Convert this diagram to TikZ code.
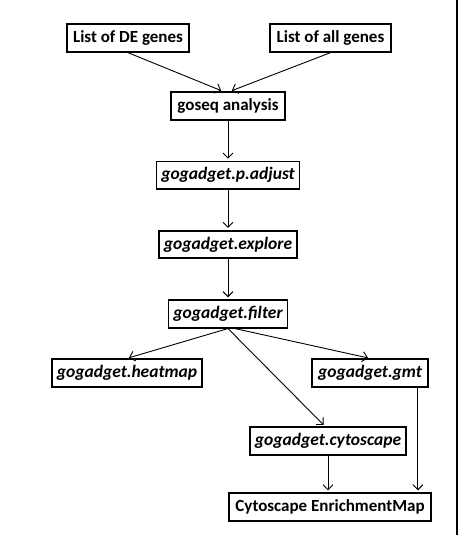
\documentclass[tikz,border=0pt]{standalone}
\usepackage{fontspec}
\setmainfont{Carlito}
\usetikzlibrary{positioning, arrows.meta}

\begin{document}
\begin{tikzpicture}[x=1pt,y=-1pt,->,>={Straight Barb[length=5pt,width=10pt]},
                shorten >=2pt,line width=0.9pt,node distance=40pt,
                box node/.style={rectangle,draw,line width=1.8pt,minimum height=27.5pt,
                  inner xsep=2pt,font=\fontsize{17}{19}\selectfont\bfseries},
                fn node/.style={box node,font=\fontsize{17.5}{19}\selectfont\bfseries\itshape}]

  \useasboundingbox (0,0) rectangle (460,535);
  \draw[-,line width=2pt,shorten >=0pt] (457,0) -- (457,535);

  \node[box node,minimum width=122pt] (de) at (128,38) {List of DE genes};
  \node[box node,minimum width=121pt] (all) at (330.5,38) {List of all genes};
  \node[box node,minimum width=114pt] (goseq) at (228,106) {goseq analysis};
  \node[fn node,minimum width=143pt] (padjust) [below=of goseq] {gogadget.p.adjust};
  \node[fn node,minimum width=138pt] (explore) [below=of padjust] {gogadget.explore};
  \node[fn node,minimum width=119pt] (filter) [below=of explore] {gogadget.filter};
  \node[fn node,minimum width=150pt] (heatmap) at (127,373) {gogadget.heatmap};
  \node[fn node,minimum width=116pt] (gmt) at (370,373) {gogadget.gmt};
  \node[fn node,minimum width=156pt] (cyto) at (328,441) {gogadget.cytoscape};
  \node[box node,minimum width=202pt] (em) at (330,507) {Cytoscape EnrichmentMap};
  \coordinate (gmtout) at ([xshift=-11pt]gmt.south east);

  \path
    (de.south) edge ([xshift=-5pt]goseq.north)
    (all.south) edge ([xshift=2pt]goseq.north)
    (goseq) edge (padjust)
    (padjust) edge (explore)
    (explore) edge (filter)
    (filter.south) edge (heatmap.north)
        edge ([xshift=-3pt]cyto.north)
    ([xshift=7pt]filter.south) edge (gmt.north)
    (cyto.south) edge (cyto.south |- em.north)
    (gmtout) edge (gmtout |- em.north);
\end{tikzpicture}
\end{document}
